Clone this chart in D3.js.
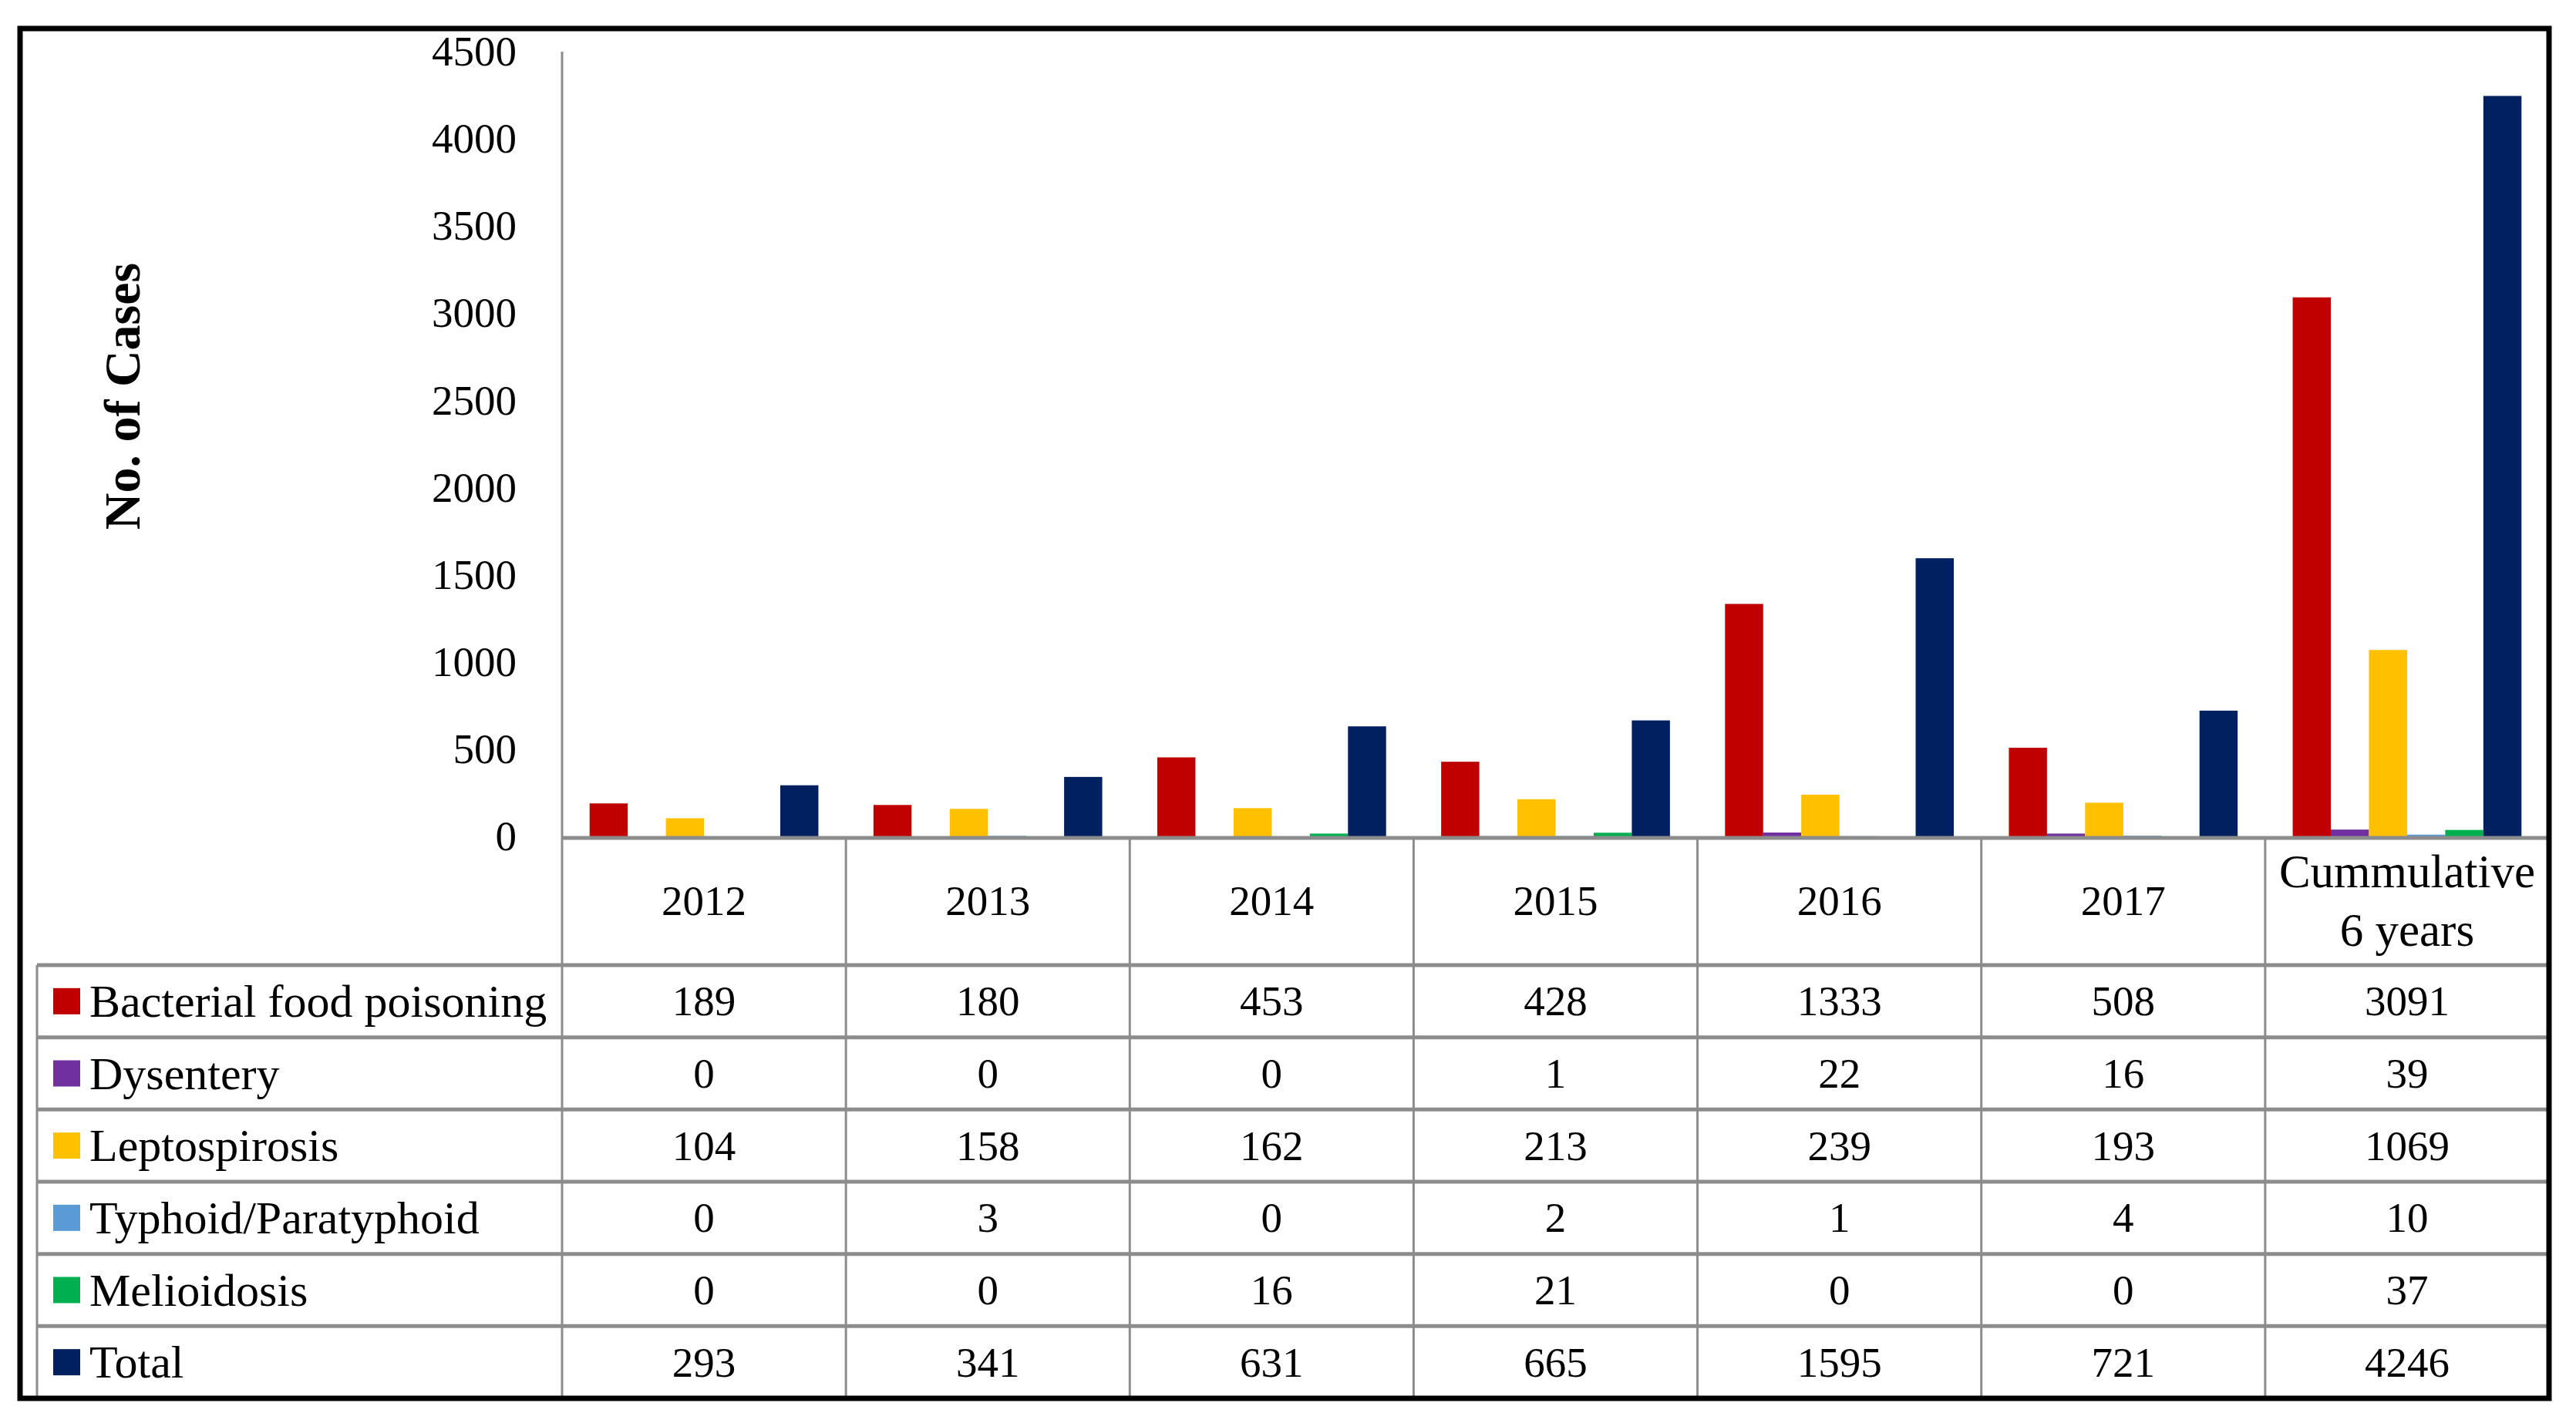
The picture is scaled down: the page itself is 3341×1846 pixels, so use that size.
<!DOCTYPE html>
<html>
<head>
<meta charset="utf-8">
<script src="https://cdn.jsdelivr.net/npm/d3@7"></script>
<style>
  body { margin: 0; background: #fff; }
</style>
</head>
<body>
<script>
var svgWidth = 3341
var svgHeight = 1846

// data
var years = ['2012', '2013', '2014', '2015', '2016', '2017', 'Cummulative 6 years']
var headerLines = [['2012'], ['2013'], ['2014'], ['2015'], ['2016'], ['2017'], ['Cummulative', '6 years']]
var seriesNames = ['Bacterial food poisoning', 'Dysentery', 'Leptospirosis', 'Typhoid/Paratyphoid', 'Melioidosis', 'Total']
var seriesColors = ['#C00000', '#7030A0', '#FFC000', '#5B9BD5', '#00B050', '#002060']
var bacterial = [189, 180, 453, 428, 1333, 508, 3091]
var dysentery = [0, 0, 0, 1, 22, 16, 39]
var leptospirosis = [104, 158, 162, 213, 239, 193, 1069]
var typhoid = [0, 3, 0, 2, 1, 4, 10]
var melioidosis = [0, 0, 16, 21, 0, 0, 37]
var total = [293, 341, 631, 665, 1595, 721, 4246]
var yTicks = [0, 500, 1000, 1500, 2000, 2500, 3000, 3500, 4000, 4500]

var seriesValues = [bacterial, dysentery, leptospirosis, typhoid, melioidosis, total]

var serif = '"Liberation Serif", "Times New Roman", serif'
var gridColor = '#8c8c8c'
var fontSize = 55

var svg = d3.select('body')
  .append('svg')
  .attr('width', svgWidth)
  .attr('height', svgHeight)
  .attr('font-family', serif)

// layout
var plotLeft = 729
var plotRight = 3306
var plotTop = 67
var plotBottom = 1085
var headerBottom = 1252
var tableBottom = 1814
var labelLeft = 48

var x0 = d3.scaleBand()
  .domain(years)
  .range([plotLeft, plotRight])
  .padding(0)

var bw = x0.bandwidth()

var x1 = d3.scaleBand()
  .domain(seriesNames)
  .range([bw * 0.097, bw * 0.903])
  .padding(0)

var y = d3.scaleLinear()
  .domain([0, 4500])
  .range([plotBottom, plotTop])

function addText(g, x, yy, str, size) {
  return g.append('text')
    .attr('x', x)
    .attr('y', yy)
    .attr('dominant-baseline', 'central')
    .style('font-family', serif)
    .style('font-size', size + 'px')
    .attr('fill', '#000')
    .text(str)
}

// y axis labels
var yAxis = d3.axisLeft(y)
  .tickValues(yTicks)
  .tickFormat(d3.format('d'))
  .tickSize(0)
  .tickPadding(59)

var yAxisGroup = svg.append('g')
  .attr('transform', 'translate(' + plotLeft + ',0)')
  .call(yAxis)

yAxisGroup.select('.domain').remove()
yAxisGroup.selectAll('text')
  .style('font-family', serif)
  .style('font-size', fontSize + 'px')
  .attr('fill', '#000')

// y axis title
svg.append('text')
  .attr('transform', 'translate(158,514) rotate(-90)')
  .attr('text-anchor', 'middle')
  .attr('dominant-baseline', 'central')
  .style('font-family', serif)
  .style('font-size', '66px')
  .style('font-weight', 'bold')
  .text('No. of Cases')

// bars
var barData = []
years.forEach(function (yr, i) {
  seriesNames.forEach(function (s, j) {
    barData.push({ year: yr, series: s, value: seriesValues[j][i], color: seriesColors[j] })
  })
})

svg.append('g').selectAll('rect')
  .data(barData)
  .enter()
  .append('rect')
  .attr('x', d => x0(d.year) + x1(d.series))
  .attr('y', d => y(d.value))
  .attr('width', x1.bandwidth())
  .attr('height', d => plotBottom - y(d.value))
  .attr('fill', d => d.color)

// axis line
svg.append('line')
  .attr('x1', plotLeft).attr('x2', plotLeft)
  .attr('y1', plotTop).attr('y2', plotBottom)
  .attr('stroke', gridColor).attr('stroke-width', 3)

// table grid
var rowHeight = (tableBottom - headerBottom) / seriesNames.length
var tableGroup = svg.append('g')

tableGroup.append('line')
  .attr('x1', plotLeft).attr('x2', plotRight)
  .attr('y1', plotBottom + 2).attr('y2', plotBottom + 2)
  .attr('stroke', gridColor).attr('stroke-width', 5)

d3.range(seriesNames.length).forEach(function (r) {
  tableGroup.append('line')
    .attr('x1', labelLeft).attr('x2', plotRight)
    .attr('y1', headerBottom + r * rowHeight).attr('y2', headerBottom + r * rowHeight)
    .attr('stroke', gridColor).attr('stroke-width', 5)
})

years.forEach(function (yr) {
  tableGroup.append('line')
    .attr('x1', x0(yr)).attr('x2', x0(yr))
    .attr('y1', plotBottom).attr('y2', tableBottom)
    .attr('stroke', gridColor).attr('stroke-width', 3)
})

tableGroup.append('line')
  .attr('x1', labelLeft).attr('x2', labelLeft)
  .attr('y1', headerBottom).attr('y2', tableBottom)
  .attr('stroke', gridColor).attr('stroke-width', 3)

// header labels
var headerMid = (plotBottom + headerBottom) / 2
years.forEach(function (yr, i) {
  var lines = headerLines[i]
  lines.forEach(function (ln, k) {
    addText(tableGroup, x0(yr) + bw / 2, headerMid + (k - (lines.length - 1) / 2) * 76, ln,
      lines.length > 1 ? 61 : fontSize)
      .attr('text-anchor', 'middle')
  })
})

// legend keys and values
seriesNames.forEach(function (s, j) {
  var cy = headerBottom + (j + 0.5) * rowHeight
  tableGroup.append('rect')
    .attr('x', 69).attr('y', cy - 17)
    .attr('width', 35).attr('height', 34)
    .attr('fill', seriesColors[j])
  addText(tableGroup, 116, cy, s, 60)
  years.forEach(function (yr, i) {
    addText(tableGroup, x0(yr) + bw / 2, cy, seriesValues[j][i], fontSize)
      .attr('text-anchor', 'middle')
  })
})

// outer border
svg.append('rect')
  .attr('x', 26).attr('y', 37)
  .attr('width', 3306 - 26).attr('height', tableBottom - 37)
  .attr('fill', 'none')
  .attr('stroke', '#000')
  .attr('stroke-width', 7)
</script>
</body>
</html>
